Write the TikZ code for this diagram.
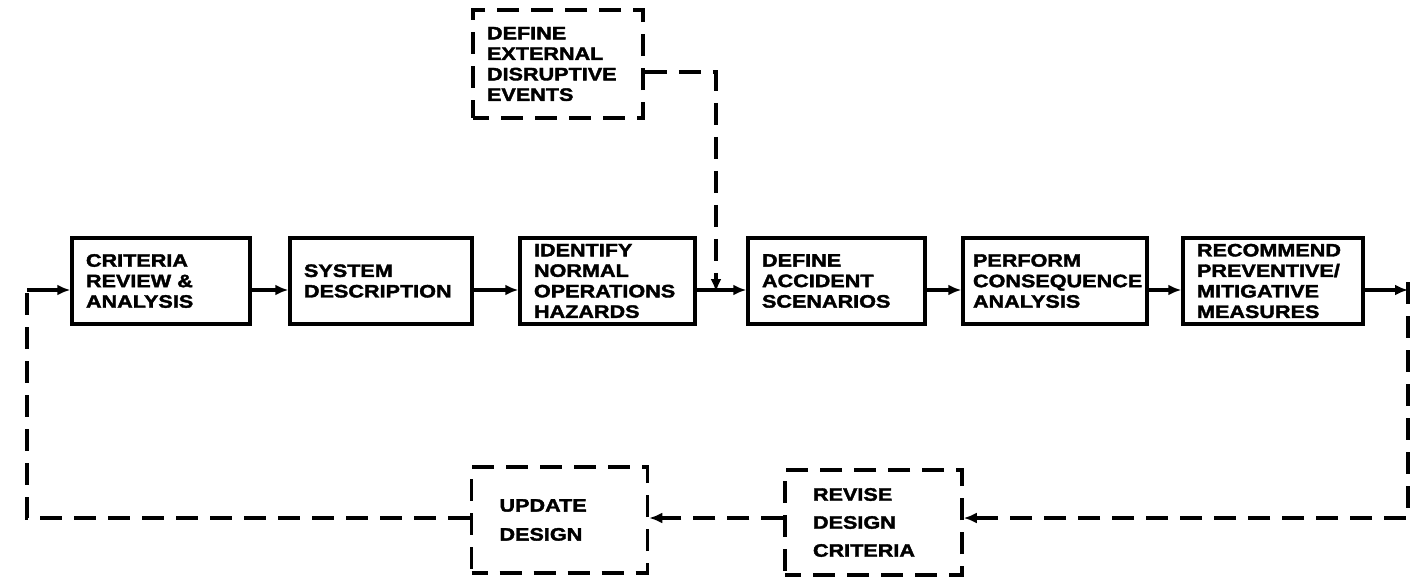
\documentclass[tikz,border=0pt]{standalone}
\usepackage{fontspec}
\usetikzlibrary{arrows.meta}
\newfontfamily\boxfont{Liberation Sans Bold}[FakeStretch=1.2, FakeBold=2]

\tikzset{
  boxtext/.style={font=\boxfont\fontsize{18}{20.5}\selectfont, align=left},
  stepbox/.style={boxtext, draw, line width=3.5pt, minimum height=86pt,
    inner xsep=14pt, text width=#1},
  dashbox/.style={boxtext, draw, line width=3.5pt, dash pattern=on 22pt off 12pt,
    dash phase=6pt, inner xsep=14pt, text width=#1},
  flow/.style={line width=3.5pt, -{Latex[length=13pt,width=11pt]}},
  dline/.style={line width=3.5pt, dash pattern=on 22pt off 12pt},
  darrow/.style={dline, -{Latex[length=13pt,width=11pt]}},
}

\begin{document}
\begin{tikzpicture}[x=1pt,y=-1pt]
\useasboundingbox[fill=white] (0,0) rectangle (1421,581);

% helper coordinates for the connector levels
\coordinate (ay) at (0,290);
\coordinate (ty) at (0,72);
\coordinate (by) at (0,518);
\coordinate (tx) at (716,0);
\coordinate (lx) at (27,0);
\coordinate (rx) at (1408,0);

% main row of process steps
\node[stepbox=150pt] (b1) at (161,281) {CRITERIA\\REVIEW \&\\ANALYSIS};
\node[stepbox=154pt] (b2) at (381,281) {SYSTEM\\DESCRIPTION};
\node[stepbox=147pt] (b3) at (607.5,281) {IDENTIFY\\NORMAL\\OPERATIONS\\HAZARDS};
\node[stepbox=149pt] (b4) at (836.5,281) {DEFINE\\ACCIDENT\\SCENARIOS};
\node[stepbox=164pt, inner xsep=10pt] (b5) at (1055,281) {PERFORM\\CONSEQUENCE\\ANALYSIS};
\node[stepbox=152pt] (b6) at (1273,281) {RECOMMEND\\PREVENTIVE/\\MITIGATIVE\\MEASURES};

% optional (dashed) steps
\node[dashbox=142pt, minimum height=108pt, inner xsep=14pt] (ext) at (558,64)
  {DEFINE\\EXTERNAL\\DISRUPTIVE\\EVENTS\\[4pt]};
\node[dashbox=120pt, minimum height=106pt, inner xsep=28pt,
  font=\boxfont\fontsize{18}{29}\selectfont] (upd) at (559.5,520)
  {UPDATE\\DESIGN};
\node[dashbox=121pt, minimum height=105pt, inner xsep=28pt,
  font=\boxfont\fontsize{18}{28}\selectfont] (rev) at (873.5,522.5)
  {REVISE\\DESIGN\\CRITERIA};

% solid flow between steps
\draw[flow] (b1.east |- ay) -- (b2.west |- ay);
\draw[flow] (b2.east |- ay) -- (b3.west |- ay);
\draw[flow] (b3.east |- ay) -- (b4.west |- ay);
\draw[flow] (b4.east |- ay) -- (b5.west |- ay);
\draw[flow] (b5.east |- ay) -- (b6.west |- ay);
\draw[flow] (b6.east |- ay) -- (rx |- ay);
\draw[flow] (lx |- ay) -- (b1.west |- ay);

% external events feed into accident scenarios
\draw[darrow] (ext.east |- ty) -| ([yshift=-2pt]tx |- ay);

% feedback loop
\draw[darrow] ([yshift=8pt]rx |- ay) |- (rev.east |- by);
\draw[darrow] (rev.west |- by) -- (upd.east |- by);
\draw[dline] (upd.west |- by) -| ([yshift=6pt]lx |- ay);
\end{tikzpicture}
\end{document}
